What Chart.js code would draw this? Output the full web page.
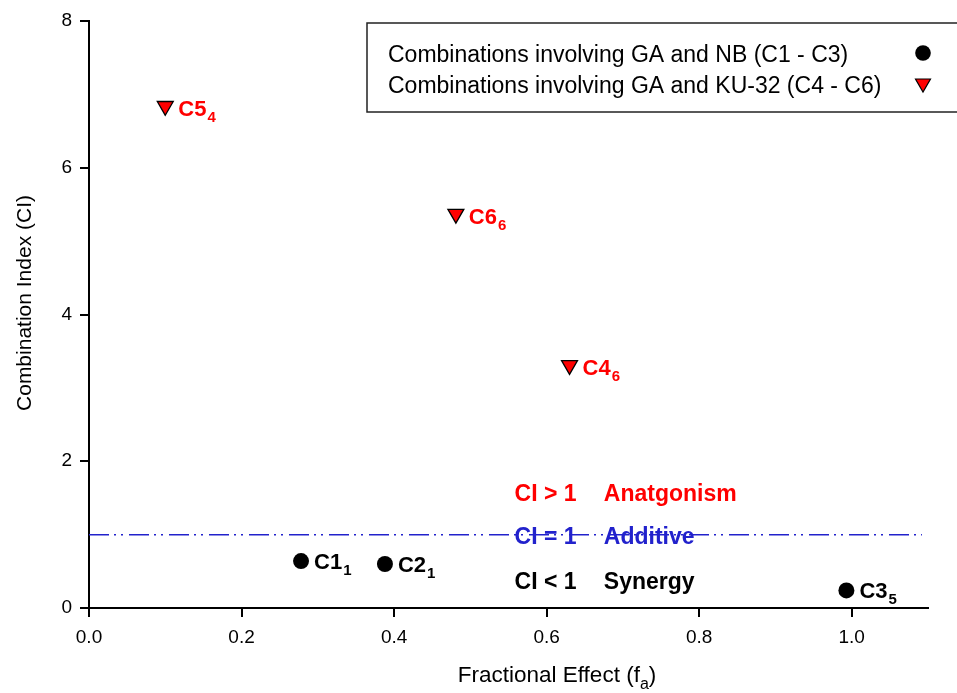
<!DOCTYPE html>
<html>
<head>
<meta charset="utf-8">
<script src="https://cdn.jsdelivr.net/npm/chart.js@4.4.0/dist/chart.umd.min.js"></script>
<style>
  html, body { margin: 0; padding: 0; background: #fff; }
</style>
</head>
<body>
<canvas id="ciChart" width="957" height="693"></canvas>
<script>
// combinations with GA + NB
const nbNames = ["C1", "C2", "C3"];
const nbSubs = ["1", "1", "5"];
const nbFa = [0.278, 0.388, 0.993];
const nbCI = [0.64, 0.60, 0.24];

// combinations with GA + KU-32
const kuNames = ["C4", "C5", "C6"];
const kuSubs = ["6", "4", "6"];
const kuFa = [0.630, 0.100, 0.481];
const kuCI = [3.31, 6.84, 5.37];

// CI = 1 reference line
const addFa = [0, 1.092];
const addCI = [1, 1];

const xTicks = [0, 0.2, 0.4, 0.6, 0.8, 1.0];
const yTicks = [0, 2, 4, 6, 8];

const legendLabels = [
  "Combinations involving GA and NB (C1 - C3)",
  "Combinations involving GA and KU-32 (C4 - C6)"
];

const zoneSigns = ["CI > 1", "CI = 1", "CI < 1"];
const zoneWords = ["Anatgonism", "Additive", "Synergy"];
const zoneColors = ["#ff0000", "#2222cc", "#000000"];
const zoneCI = [1.58, 0.99, 0.38];
const zoneFa = [0.558, 0.675];

const FONT = "'Liberation Sans', Arial, sans-serif";

function pts(xs, ys) {
  return xs.map((x, i) => ({ x: x, y: ys[i] }));
}

const annotations = {
  id: "annotations",
  beforeDatasetsDraw(chart) {
    const ctx = chart.ctx;
    const xs = chart.scales.x, ys = chart.scales.y;
    ctx.save();
    ctx.font = "bold 23px " + FONT;
    ctx.textBaseline = "alphabetic";
    ctx.textAlign = "left";
    zoneSigns.forEach((s, i) => {
      const py = ys.getPixelForValue(zoneCI[i]) + 8.5;
      ctx.fillStyle = zoneColors[i];
      ctx.fillText(s, xs.getPixelForValue(zoneFa[0]), py);
      ctx.fillText(zoneWords[i], xs.getPixelForValue(zoneFa[1]), py);
    });
    ctx.restore();
  },
  afterDraw(chart) {
    const ctx = chart.ctx;
    const xs = chart.scales.x, ys = chart.scales.y;
    ctx.save();

    // point labels with subscripts
    function label(name, sub, fa, ci, color, dy) {
      const px = xs.getPixelForValue(fa) + 13;
      const py = ys.getPixelForValue(ci) + dy;
      ctx.fillStyle = color;
      ctx.font = "bold 22px " + FONT;
      ctx.fillText(name, px, py);
      const w = ctx.measureText(name).width;
      ctx.font = "bold 15px " + FONT;
      ctx.fillText(sub, px + w + 1, py + 6);
    }
    ctx.textAlign = "left";
    ctx.textBaseline = "alphabetic";
    nbNames.forEach((n, i) => label(n, nbSubs[i], nbFa[i], nbCI[i], "#000", 8));
    kuNames.forEach((n, i) => label(n, kuSubs[i], kuFa[i], kuCI[i], "#ff0000", 10));

    // legend box
    ctx.strokeStyle = "#222";
    ctx.lineWidth = 1.5;
    ctx.fillStyle = "#fff";
    ctx.fillRect(367, 23, 620, 89);
    ctx.strokeRect(367, 23, 620, 89);
    ctx.fillStyle = "#000";
    ctx.font = "23px " + FONT;
    ctx.fillText(legendLabels[0], 388, 62);
    ctx.fillText(legendLabels[1], 388, 93);
    ctx.beginPath();
    ctx.arc(923, 53, 7.8, 0, Math.PI * 2);
    ctx.fill();
    ctx.beginPath();
    ctx.moveTo(915.5, 79);
    ctx.lineTo(930.5, 79);
    ctx.lineTo(923, 92);
    ctx.closePath();
    ctx.fillStyle = "#ff0000";
    ctx.fill();
    ctx.strokeStyle = "#000";
    ctx.lineWidth = 1.2;
    ctx.stroke();

    // axis titles
    ctx.fillStyle = "#000";
    ctx.font = "22.5px " + FONT;
    const t1 = "Fractional Effect (f";
    const w1 = ctx.measureText(t1).width;
    ctx.font = "16px " + FONT;
    const wa = ctx.measureText("a").width;
    ctx.font = "22.5px " + FONT;
    const w2 = ctx.measureText(")").width;
    let tx = 557 - (w1 + wa + w2) / 2;
    ctx.fillText(t1, tx, 682);
    ctx.font = "16px " + FONT;
    ctx.fillText("a", tx + w1, 689);
    ctx.font = "22.5px " + FONT;
    ctx.fillText(")", tx + w1 + wa, 682);

    ctx.translate(31, 303);
    ctx.rotate(-Math.PI / 2);
    ctx.textAlign = "center";
    ctx.font = "21px " + FONT;
    ctx.fillText("Combination Index (CI)", 0, 0);
    ctx.restore();
  }
};

const ctx = document.getElementById("ciChart").getContext("2d");
const ciChart = new Chart(ctx, {
  type: "scatter",
  data: {
    datasets: [
      {
        type: "line",
        label: "Additive",
        data: pts(addFa, addCI),
        borderColor: "#2222cc",
        borderWidth: 1.5,
        borderDash: [20, 5, 2, 5, 2, 6],
        pointRadius: 0,
        fill: false
      },
      {
        label: legendLabels[0],
        data: pts(nbFa, nbCI),
        pointStyle: "circle",
        pointRadius: 8,
        pointHoverRadius: 8,
        backgroundColor: "#000",
        borderColor: "#000",
        borderWidth: 0
      },
      {
        label: legendLabels[1],
        data: pts(kuFa, kuCI),
        pointStyle: "triangle",
        rotation: 180,
        pointRadius: 9.2,
        pointHoverRadius: 9.2,
        backgroundColor: "#ff0000",
        borderColor: "#000",
        borderWidth: 1.3
      }
    ]
  },
  options: {
    responsive: false,
    animation: false,
    layout: { padding: { left: 0, top: 21, right: 29, bottom: 0 } },
    plugins: {
      legend: { display: false },
      tooltip: { enabled: false }
    },
    scales: {
      x: {
        type: "linear",
        min: 0,
        max: 1.1,
        afterFit(scale) { scale.height = 85; },
        afterBuildTicks(scale) { scale.ticks = xTicks.map(v => ({ value: v })); },
        grid: { drawOnChartArea: false, drawTicks: true, tickLength: 9, color: "#000", lineWidth: 2 },
        border: { display: true, color: "#000", width: 2 },
        ticks: {
          color: "#000",
          padding: 9,
          font: { family: FONT, size: 19 },
          callback: v => v.toFixed(1)
        }
      },
      y: {
        type: "linear",
        min: 0,
        max: 8,
        afterFit(scale) { scale.width = 89; },
        afterBuildTicks(scale) { scale.ticks = yTicks.map(v => ({ value: v })); },
        grid: { drawOnChartArea: false, drawTicks: true, tickLength: 9, color: "#000", lineWidth: 2 },
        border: { display: true, color: "#000", width: 2 },
        ticks: {
          color: "#000",
          padding: 8,
          font: { family: FONT, size: 19 },
          callback: v => String(v)
        }
      }
    }
  },
  plugins: [annotations]
});
</script>
</body>
</html>
